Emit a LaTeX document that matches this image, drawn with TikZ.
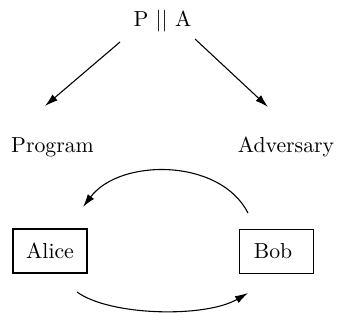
\documentclass[tikz,border=0pt]{standalone}
\usetikzlibrary{arrows.meta}
\begin{document}
\begin{tikzpicture}[x=0.46pt,y=-0.46pt,
  lbl/.style={inner sep=0pt},
  agent/.style={draw,line width=0.5pt,minimum width=74*0.46pt,minimum height=44*0.46pt,inner sep=0pt},
  conn/.style={line width=0.5pt,-{Latex[length=6pt,width=3.6pt]}}]
\useasboundingbox (0,0) rectangle (342,320);
\node[lbl] (pa) at (162.5,21) {P $||$ A};
\node[lbl] (prog) at (52.5,147) {Program};
\node[lbl] (adv) at (286,147) {Adversary};
\node[agent] (alice) at (50,251) {Alice};
\node[agent] (bob) at (276.5,251.5) {\hspace*{-3.2pt}Bob};
\coordinate (pl) at (120,42);
\coordinate (pr) at (195,39);
\coordinate (ptl) at (45,106);
\coordinate (ptr) at (268,107);
\draw[conn] (pl) -- (ptl);
\draw[conn] (pr) -- (ptr);
\coordinate (bs) at (248,213);
\coordinate (ae) at (83,207);
\coordinate (as) at (77,292);
\coordinate (be) at (248,293);
\draw[conn] (bs) .. controls (220,158) and (120,158) .. (ae);
\draw[conn] (as) .. controls (110,316) and (205,318) .. (be);
\end{tikzpicture}
\end{document}
